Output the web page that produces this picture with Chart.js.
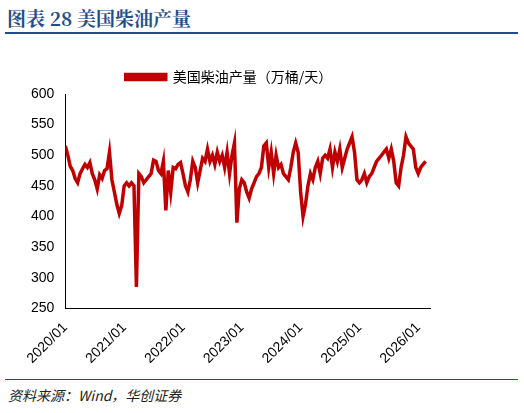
<!DOCTYPE html>
<html><head><meta charset="utf-8">
<script src="https://cdn.jsdelivr.net/npm/chart.js@4/dist/chart.umd.min.js"></script>
<style>
body{margin:0;width:524px;height:413px;background:#fff;position:relative;font-family:"Noto Sans CJK SC";overflow:hidden}
#title{position:absolute;left:7px;top:4px;font-size:19px;font-weight:bold;color:#1f4e8c;font-family:"Noto Serif CJK SC","Noto Sans CJK SC";}
#rule1{position:absolute;left:5px;right:6px;top:32px;height:2px;background:#1f4e8c}
#rule2{position:absolute;left:5px;right:6px;top:379px;height:1px;background:#1f4e8c}
#src{position:absolute;left:8px;top:385px;font-size:14px;font-style:italic;color:#222}
#wrap{position:absolute;left:0;top:48px;width:524px;height:330px}
</style></head><body>
<div id="title">图表 28 美国柴油产量</div>
<div id="rule1"></div>
<div id="wrap"><canvas id="c"></canvas></div>
<div id="rule2"></div>
<div id="src">资料来源：Wind，华创证券</div>
<script>
// half-monthly readings, 24 per year
const years = [2020, 2021, 2022, 2023, 2024, 2025, 2026];
const y2020 = [515,500,482,475,462,455,470,478,485,480,488,470,460,445,468,462,475,478,505,460,440,420,405,418];
const y2021 = [450,455,450,455,450,285,470,465,455,460,465,470,492,490,475,470,490,410,475,440,480,478,485,488];
const y2022 = [470,450,440,460,490,480,455,475,495,490,510,490,500,485,505,490,500,480,505,470,500,520,390,445];
const y2023 = [460,455,440,430,445,455,465,470,480,515,520,480,505,470,500,480,485,470,465,460,480,505,520,505];
const y2024 = [440,400,420,450,470,460,480,490,470,495,500,495,510,480,505,490,510,480,495,510,520,530,505,460];
const y2025 = [455,460,470,455,465,470,480,490,495,500,505,510,495,510,490,455,450,480,500,530,520,515,510,480];
const y2026 = [470,480,485,490];
const seriesName = '美国柴油产量（万桶/天）';

const byYear = [y2020, y2021, y2022, y2023, y2024, y2025, y2026];
const points = [];
byYear.forEach((arr, k) => arr.forEach((v, i) => points.push({x: years[k] + i / 24, y: v})));

new Chart(document.getElementById('c'), {
  type: 'line',
  data: { datasets: [{
    label: seriesName, data: points,
    borderColor: '#c00000', backgroundColor: '#c00000',
    borderWidth: 3.5, pointRadius: 0, tension: 0, fill: false
  }]},
  options: {
    responsive: true, maintainAspectRatio: false, animation: false,
    layout: { padding: { left: 28, right: 94, top: 0, bottom: 8 } },
    plugins: {
      legend: { labels: { boxWidth: 40, boxHeight: 5, color: '#000', padding: 22,
        font: { size: 14, family: '"Noto Sans CJK SC"' } } },
      tooltip: { enabled: false }
    },
    scales: {
      x: { type: 'linear', min: 2020, max: 2026.2,
        grid: { display: false }, border: { color: '#000' },
        afterBuildTicks: s => { s.ticks = years.map(y => ({ value: y })); },
        ticks: { autoSkip: false, minRotation: 45, maxRotation: 45, color: '#000',
          font: { size: 14, family: 'Liberation Sans' },
          callback: v => v + '/01' } },
      y: { min: 250, max: 600,
        grid: { display: false, drawTicks: true }, border: { color: '#000' },
        ticks: { stepSize: 50, color: '#000', font: { size: 14, family: 'Liberation Sans' } } }
    }
  }
});
</script>
</body></html>
